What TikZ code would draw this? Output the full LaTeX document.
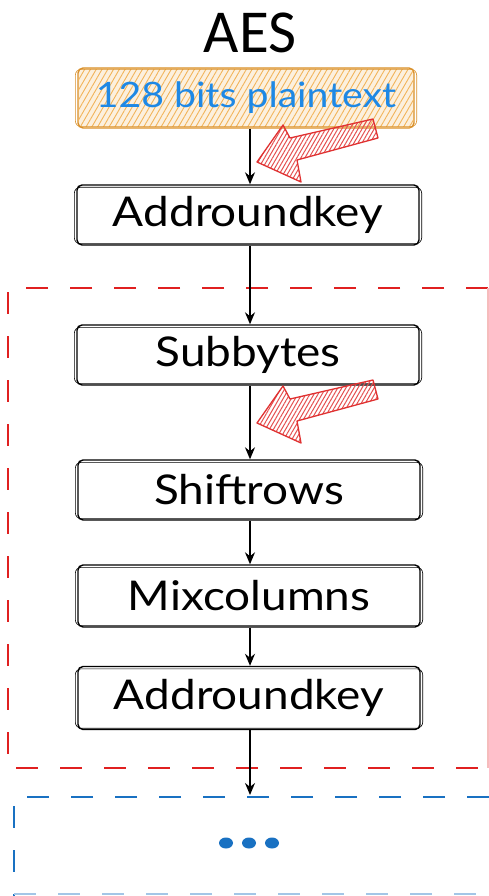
\documentclass[tikz,border=0pt]{standalone}
\usepackage{fontspec}
\setmainfont{Lato}
\newfontfamily\titlefont{Carlito}
\newfontfamily\boxfont[FakeStretch=1.12]{Lato}
\usetikzlibrary{arrows.meta,patterns.meta}
\definecolor{exred}{HTML}{E03131}
\definecolor{dashred}{HTML}{E02020}
\definecolor{exblue}{HTML}{1971C2}
\definecolor{txtblue}{HTML}{1E88E5}
\definecolor{exorange}{HTML}{D9902A}
\definecolor{hatchor}{HTML}{F2B45A}
\tikzset{
  sk/.style={draw, rounded corners=5pt, line width=1.4pt, minimum width=342pt, minimum height=60pt,
    inner sep=0pt, font=\boxfont\fontsize{41}{43}\selectfont},
  conn/.style={-{Stealth[length=12pt,width=10pt]}, line width=1.4pt},
  hatchred/.style={draw=exred, line width=1.3pt, line join=round,
    pattern={Lines[angle=60,distance=3.5pt,line width=1pt]}, pattern color=exred!85},
}
\begin{document}
\begin{tikzpicture}[x=1pt,y=-1pt]
\useasboundingbox (0,0) rectangle (489,896);
\fill[white] (0,0) rectangle (489,896);
% title
\node[font=\titlefont\fontsize{61}{63}\selectfont] (title) at (250,33) {AES};
% containers
\draw[dashred, line width=1.3pt, dash pattern=on 22pt off 22pt] (488,288) -- (8,288) -- (8,768) -- (488,768);
\draw[dashred!30, line width=1.3pt] (488,288) -- (488,768);
\draw[exblue, line width=1.3pt, dash pattern=on 22pt off 22pt] (489,797) -- (14,797) -- (14,896);
\draw[exblue!40, line width=1.3pt, dash pattern=on 22pt off 22pt] (14,894) -- (489,894);
% plaintext box
\node[sk, draw=exorange, fill=hatchor!20, minimum width=336pt,
  postaction={pattern={Lines[angle=60,distance=5pt,line width=0.9pt]}, pattern color=hatchor},
  text=txtblue, font=\boxfont\fontsize{35}{37}\selectfont] (pt) at (246,98) {128 bits plaintext};
\node[sk, fill=white] (ark1) at (248,215) {Addroundkey};
\node[sk, fill=white] (sub) at (248,355) {Subbytes};
\node[sk, fill=white] (shr) at (249,490) {Shiftrows};
\node[sk, fill=white, minimum height=62pt] (mix) at (249,596) {Mixcolumns};
\node[sk, fill=white, minimum height=63pt] (ark2) at (249,698) {Addroundkey};
% sketchy second strokes
\foreach \n in {ark1,sub,shr,mix,ark2}{
  \draw[line width=0.6pt, rounded corners=6pt] ([shift={(-2,-2)}]\n.south west) rectangle ([shift={(2,3)}]\n.north east);
}
\draw[exorange, line width=0.6pt, rounded corners=6pt] ([shift={(-2,-2)}]pt.south west) rectangle ([shift={(2,2)}]pt.north east);
% connectors
\draw[conn] (pt.south -| 250,0) -- (ark1.north -| 250,0);
\draw[conn] (ark1.south -| 250,0) -- (sub.north -| 250,0);
\draw[conn] (sub.south -| 250,0) -- (shr.north -| 250,0);
\draw[conn] (shr.south -| 250,0) -- (mix.north -| 250,0);
\draw[conn] (mix.south -| 250,0) -- (ark2.north -| 250,0);
\coordinate (blueTop) at (250,795);
\draw[conn] (ark2.south -| 250,0) -- (blueTop);
% red hatched arrows
\foreach \dy in {0,261}{
  \begin{scope}[yshift=-\dy pt]
  \path[hatchred] (257,162) -- (283,125) -- (290,138) -- (373,119) -- (378,138) -- (297,160) -- (301,182) -- cycle;
  \end{scope}
}
% dots
\foreach \dx in {226,249,272}{
  \fill[exblue] (\dx,843) ellipse (7pt and 5.5pt);
}
\end{tikzpicture}
\end{document}
